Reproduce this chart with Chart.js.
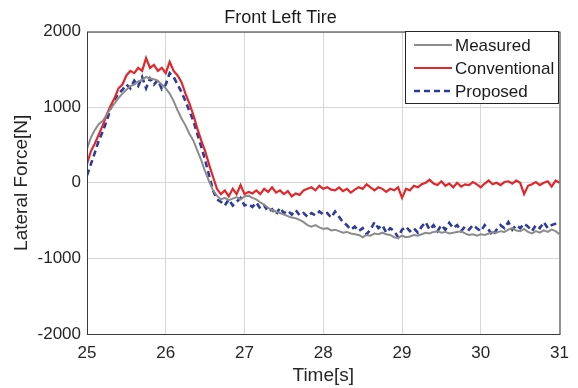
<!DOCTYPE html>
<html lang="en">
<head>
  <meta charset="UTF-8" />
  <title>Front Left Tire</title>
  <script src="https://cdn.jsdelivr.net/npm/chart.js"></script>
  <style>
    html, body { margin: 0; padding: 0; background: #fff; }
    canvas { display: block; }
  </style>
</head>
<body>
  <canvas id="tireChart" width="578" height="388"></canvas>

  <script>
    const times = [
      25.00, 25.05, 25.10, 25.15, 25.20, 25.25, 25.30, 25.35, 25.40, 25.45, 25.50, 25.55, 25.60, 25.65, 25.70, 25.75, 25.80, 25.85, 25.90, 25.95,
      26.00, 26.05, 26.10, 26.15, 26.20, 26.25, 26.30, 26.35, 26.40, 26.45, 26.50, 26.55, 26.60, 26.65, 26.70, 26.75, 26.80, 26.85, 26.90, 26.95,
      27.00, 27.05, 27.10, 27.15, 27.20, 27.25, 27.30, 27.35, 27.40, 27.45, 27.50, 27.55, 27.60, 27.65, 27.70, 27.75, 27.80, 27.85, 27.90, 27.95,
      28.00, 28.05, 28.10, 28.15, 28.20, 28.25, 28.30, 28.35, 28.40, 28.45, 28.50, 28.55, 28.60, 28.65, 28.70, 28.75, 28.80, 28.85, 28.90, 28.95,
      29.00, 29.05, 29.10, 29.15, 29.20, 29.25, 29.30, 29.35, 29.40, 29.45, 29.50, 29.55, 29.60, 29.65, 29.70, 29.75, 29.80, 29.85, 29.90, 29.95,
      30.00, 30.05, 30.10, 30.15, 30.20, 30.25, 30.30, 30.35, 30.40, 30.45, 30.50, 30.55, 30.60, 30.65, 30.70, 30.75, 30.80, 30.85, 30.90, 30.95,
      31.00
    ];

    const measured = [
      450, 600, 700, 780, 820, 900, 980, 1050, 1120, 1180, 1230, 1280, 1300, 1340, 1360, 1400, 1380, 1370, 1350, 1300,
      1250, 1180, 1080, 960, 850, 760, 650, 560, 430, 300, 150, 20, -100, -170, -220, -200, -230, -210, -190, -220,
      -180, -170, -200, -220, -260, -290, -330, -360, -380, -400, -420, -440, -460, -470, -490, -520, -560, -580, -560, -590,
      -610, -600, -630, -620, -640, -660, -650, -670, -680, -690, -720, -690, -700, -670, -680, -660, -680, -690, -720, -730,
      -700, -720, -710, -690, -700, -680, -660, -670, -650, -640, -660, -650, -670, -660, -650, -640, -670, -690, -680, -700,
      -680, -690, -670, -650, -660, -640, -650, -620, -600, -630, -640, -610, -650, -670, -640, -660, -630, -650, -620, -640,
      -680
    ];

    const conventional = [
      250, 420, 520, 640, 760, 900, 1020, 1120, 1250, 1300, 1420, 1480, 1450, 1520, 1480, 1650, 1520, 1560, 1480, 1520,
      1450, 1600, 1480, 1420, 1330, 1180, 1050, 900, 720, 560, 420, 240, 80, -80, -150, -100, -180, -80, -150, -30,
      -150, -120, -140, -100, -150, -80, -120, -60, -130, -100, -150, -110, -180, -140, -160, -100, -80, -60, -100, -40,
      -80, -60, -90, -100, -60, -110, -80, -130, -90, -60, -80, -20, -60, -100, -60, -80, -120, -80, -100, -60,
      -200, -80, -100, -40, -60, -20, 0, 40, -10, -30, 20, -40, -10, -60, 0, -50, -20, -30, 10, -20,
      -60, -10, 30, -20, 0, -30, 10, 20, -10, 30, 0, -150, -40, -20, 10, -30, 0, 20, -50, 30,
      0
    ];

    const proposed = [
      100, 250, 400, 560, 680, 820, 980, 1100, 1180, 1230, 1300, 1250, 1350, 1280, 1400, 1250, 1380, 1300, 1360, 1240,
      1300, 1450, 1400, 1300, 1200, 1080, 950, 820, 650, 480, 300, 100, -100, -220, -250, -300, -220, -300, -250, -200,
      -300, -280, -320, -260, -340, -300, -380, -350, -420, -330, -400, -370, -420, -360, -430, -400, -450, -400, -430, -380,
      -420, -400, -460, -380, -450, -520, -560, -620, -580, -640, -600, -680, -620, -520, -600, -560, -660, -600, -640, -720,
      -620, -580, -640, -600, -660, -580, -520, -620, -560, -640, -560, -620, -530, -600, -560, -640, -580, -620, -560, -600,
      -640, -560, -620, -700, -620, -560, -600, -520, -620, -560, -600, -540, -580, -640, -560, -600, -520, -600, -560, -540,
      -520
    ];

    const xTicks = [25, 26, 27, 28, 29, 30, 31];
    const yTicks = [-2000, -1000, 0, 1000, 2000];

    const toPoints = vals => vals.map((v, i) => ({ x: times[i], y: v }));

    const boxAndLegend = {
      id: 'boxAndLegend',
      afterDraw(chart) {
        const { ctx, chartArea: a } = chart;
        ctx.save();
        ctx.strokeStyle = '#3a3a3a';
        ctx.lineWidth = 1;
        ctx.setLineDash([]);
        ctx.strokeRect(a.left + 0.5, a.top + 0.5, a.right - a.left, a.bottom - a.top);

        const bx = 405, by = 31, bw = 153, bh = 72;
        ctx.fillStyle = '#fff';
        ctx.fillRect(bx, by, bw, bh);
        ctx.strokeStyle = '#262626';
        ctx.strokeRect(bx + 0.5, by + 0.5, bw, bh);

        ctx.font = '17px "Liberation Sans", Arial, sans-serif';
        ctx.textBaseline = 'middle';
        const rows = [45, 68, 91];
        chart.data.datasets.forEach((ds, i) => {
          const y = rows[i];
          ctx.strokeStyle = ds.borderColor;
          ctx.lineWidth = ds.borderWidth;
          ctx.setLineDash(ds.borderDash || []);
          ctx.beginPath();
          ctx.moveTo(414, y);
          ctx.lineTo(452, y);
          ctx.stroke();
          ctx.setLineDash([]);
          ctx.fillStyle = '#1a1a1a';
          ctx.fillText(ds.label, 455, y + 1);
        });
        ctx.restore();
      }
    };

    new Chart(document.getElementById('tireChart'), {
      type: 'line',
      data: {
        datasets: [
          {
            label: 'Measured',
            data: toPoints(measured),
            borderColor: '#8c8c8c',
            borderWidth: 2,
            pointRadius: 0,
            tension: 0
          },
          {
            label: 'Conventional',
            data: toPoints(conventional),
            borderColor: '#e3262a',
            borderWidth: 2.2,
            pointRadius: 0,
            tension: 0
          },
          {
            label: 'Proposed',
            data: toPoints(proposed),
            borderColor: '#2c3b9c',
            borderWidth: 2.6,
            borderDash: [6, 4],
            pointRadius: 0,
            tension: 0
          }
        ]
      },
      options: {
        responsive: false,
        animation: false,
        layout: { padding: { left: 0, right: 17, top: 0, bottom: 0 } },
        plugins: {
          legend: { display: false },
          tooltip: { enabled: false },
          title: {
            display: true,
            text: 'Front Left Tire',
            color: '#1a1a1a',
            font: { family: '"Liberation Sans", Arial, sans-serif', size: 18, weight: 'normal' },
            padding: { top: 7, bottom: 3 }
          }
        },
        scales: {
          x: {
            type: 'linear',
            min: 25,
            max: 31,
            afterBuildTicks: s => { s.ticks = xTicks.map(v => ({ value: v })); },
            afterFit: s => { s.height = 54; },
            grid: { color: '#d6d6d6', lineWidth: 1, tickLength: 0 },
            border: { display: false },
            ticks: {
              color: '#262626',
              padding: 9,
              maxRotation: 0,
              callback: v => String(v),
              font: { family: '"Liberation Sans", Arial, sans-serif', size: 17 }
            },
            title: {
              display: true,
              text: 'Time[s]',
              color: '#262626',
              font: { family: '"Liberation Sans", Arial, sans-serif', size: 19 },
              padding: { top: 0, bottom: 1 }
            }
          },
          y: {
            min: -2000,
            max: 2000,
            afterBuildTicks: s => { s.ticks = yTicks.map(v => ({ value: v })); },
            afterFit: s => { s.width = 87; },
            grid: { color: '#d6d6d6', lineWidth: 1, tickLength: 0 },
            border: { display: false },
            ticks: {
              color: '#262626',
              padding: 6,
              callback: v => String(v),
              font: { family: '"Liberation Sans", Arial, sans-serif', size: 17 }
            },
            title: {
              display: true,
              text: 'Lateral Force[N]',
              color: '#262626',
              font: { family: '"Liberation Sans", Arial, sans-serif', size: 19 },
              padding: { top: 10, bottom: 0 }
            }
          }
        }
      },
      plugins: [boxAndLegend]
    });
  </script>
</body>
</html>
